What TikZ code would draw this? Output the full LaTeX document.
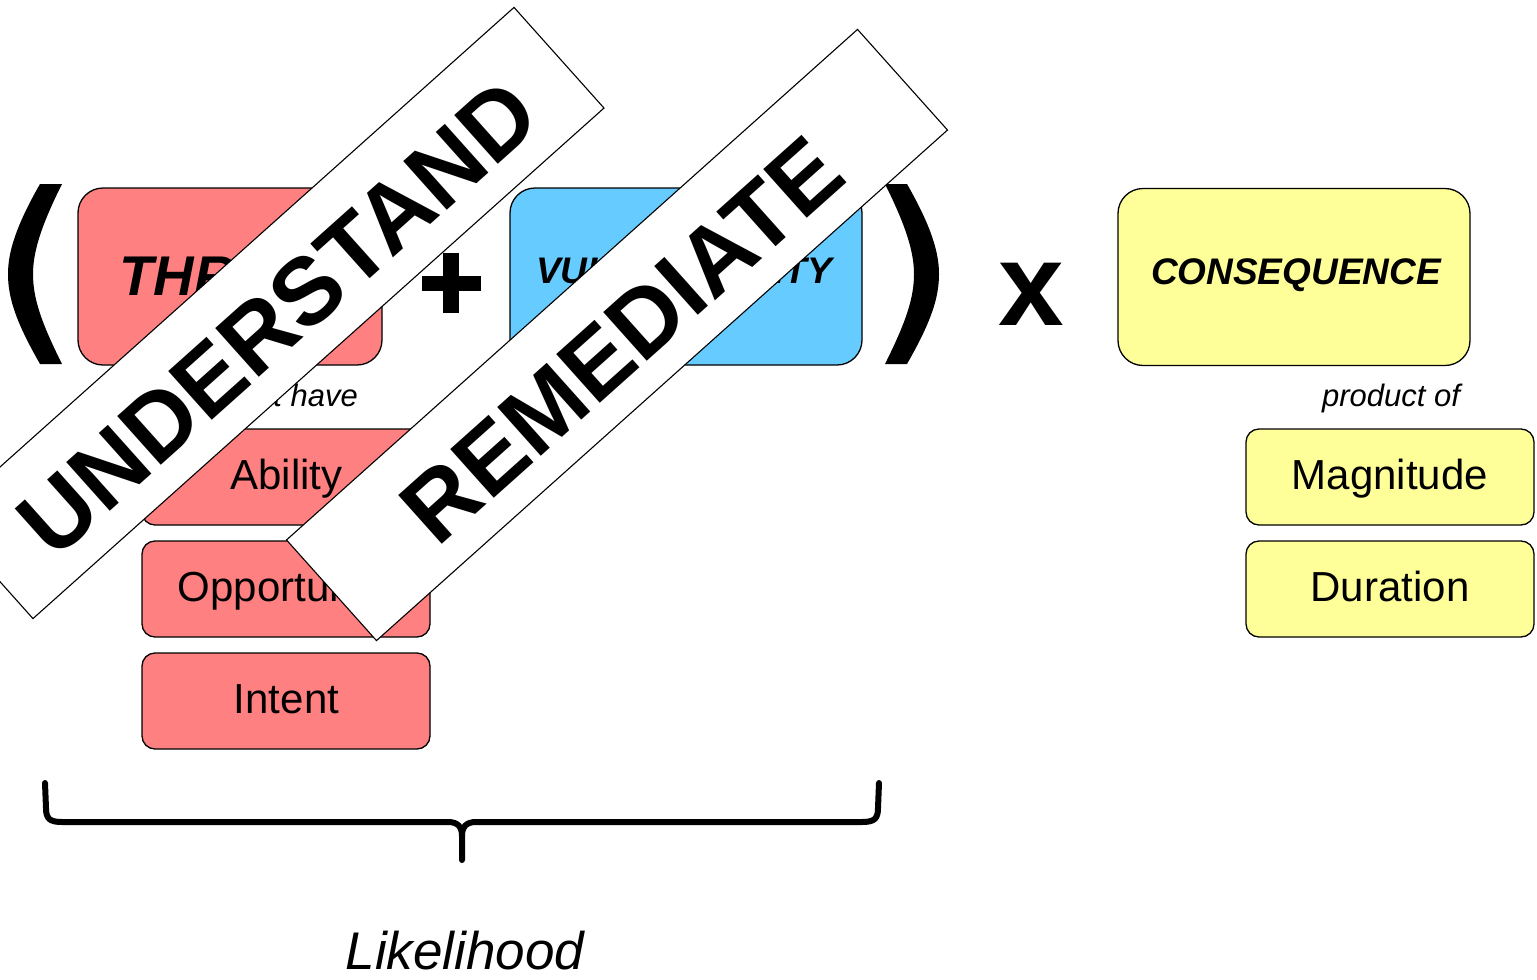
\documentclass[tikz,border=0pt]{standalone}
\usepackage{fontspec}
\setmainfont{Liberation Sans}
\definecolor{threatred}{RGB}{255,128,128}
\definecolor{vulnblue}{RGB}{102,204,255}
\definecolor{consyellow}{RGB}{255,255,153}
\begin{document}
\begin{tikzpicture}[x=1pt,y=-1pt,
  bigbox/.style={draw=black, line width=1.3pt, rounded corners=25pt, inner sep=0pt,
    minimum width=#1, minimum height=177pt},
  smallbox/.style={draw=black, line width=1.3pt, rounded corners=13pt, inner sep=0pt,
    minimum width=288pt, minimum height=96pt},
  titletext/.style={inner sep=0pt, anchor=base, font=\fontsize{#1}{#1}\selectfont\bfseries\itshape},
  itemtext/.style={inner sep=0pt, anchor=base, font=\fontsize{42}{44}\selectfont},
  notetext/.style={inner sep=0pt, font=\fontsize{31}{33}\selectfont\itshape},
  banner/.style={draw=black, line width=1.1pt, fill=white, rotate=41.8,
    minimum width=766pt, minimum height=135pt, inner sep=0pt},
  bannertext/.style={rotate=41.8, inner sep=0pt,
    font=\fontsize{95}{95}\selectfont\bfseries},
  symbolfill/.style={fill=black}
]
\useasboundingbox (0,0) rectangle (1537,980);
\clip (0,0) rectangle (1537,980);

% main factor boxes
\node[bigbox=304pt, fill=threatred] (threat) at (230,276.5) {};
\node[titletext=56] (threatT) at (231,295) {THREAT};
\node[bigbox=352pt, fill=vulnblue] (vuln) at (686,276.5) {};
\node[titletext=37] (vulnT) at (684,283) {VULNERABILITY};
\node[bigbox=352pt, fill=consyellow] (cons) at (1294,277) {};
\node[titletext=37] (consT) at (1296,284.5) {CONSEQUENCE};

% threat components
\node[notetext, anchor=base east] (musthave) at (358,406) {must have};
\node[smallbox, fill=threatred] (ability) at (286,477) {};
\node[itemtext] (abilityT) at (286.5,489) {Ability};
\node[smallbox, fill=threatred] (opport) at (286,589) {};
\node[itemtext] (opportT) at (286.5,601) {Opportunity};
\node[smallbox, fill=threatred] (intent) at (286,701) {};
\node[itemtext] (intentT) at (286.5,713) {Intent};

% consequence components
\node[notetext, anchor=base] (productof) at (1391,406) {product of};
\node[smallbox, fill=consyellow] (magn) at (1390,477) {};
\node[itemtext] (magnT) at (1390,489) {Magnitude};
\node[smallbox, fill=consyellow] (durat) at (1390,589) {};
\node[itemtext] (duratT) at (1390,601) {Duration};

% opening and closing parentheses
\fill[symbolfill] (40,184) .. controls (16,226) and (8,252) .. (8,274)
  .. controls (8,298) and (16,322) .. (40,364) -- (62,364)
  .. controls (41,322) and (33,298) .. (33,274)
  .. controls (33,252) and (41,226) .. (62,184) -- cycle;
\fill[symbolfill] (907,184) .. controls (931,226) and (939,252) .. (939,274)
  .. controls (939,298) and (931,322) .. (907,364) -- (885,364)
  .. controls (906,322) and (914,298) .. (914,274)
  .. controls (914,252) and (906,226) .. (885,184) -- cycle;

% plus sign
\fill[symbolfill] (443,253) rectangle (459,313);
\fill[symbolfill] (422,276) rectangle (481,291);

% times sign
\node[inner sep=0pt, anchor=base, font=\fontsize{118}{118}\selectfont\bfseries] (times) at (1031,325) {x};

% brace under the likelihood terms
\draw[line width=6pt, line cap=round, line join=round]
  (45,783) -- (46,808) .. controls (46,819) and (50,822) .. (62,822) -- (448,822)
  .. controls (458,822) and (462,827) .. (462,836) -- (462,860);
\draw[line width=6pt, line cap=round, line join=round]
  (879,783) -- (878,808) .. controls (878,819) and (874,822) .. (862,822) -- (476,822)
  .. controls (466,822) and (462,827) .. (462,836);
\node[inner sep=0pt, anchor=base, font=\fontsize{53}{55}\selectfont\itshape] (likelihood) at (465,969) {Likelihood};

% overlaid banners, lettering set slightly toward the lower edge
\node[banner] (understand) at (273.5,313) {};
\node[bannertext] (understandT) at (277.5,317.5) {UNDERSTAND};
\node[banner] (remediate) at (617,335) {};
\node[bannertext] (remediateT) at (622,340) {REMEDIATE};
\end{tikzpicture}
\end{document}
